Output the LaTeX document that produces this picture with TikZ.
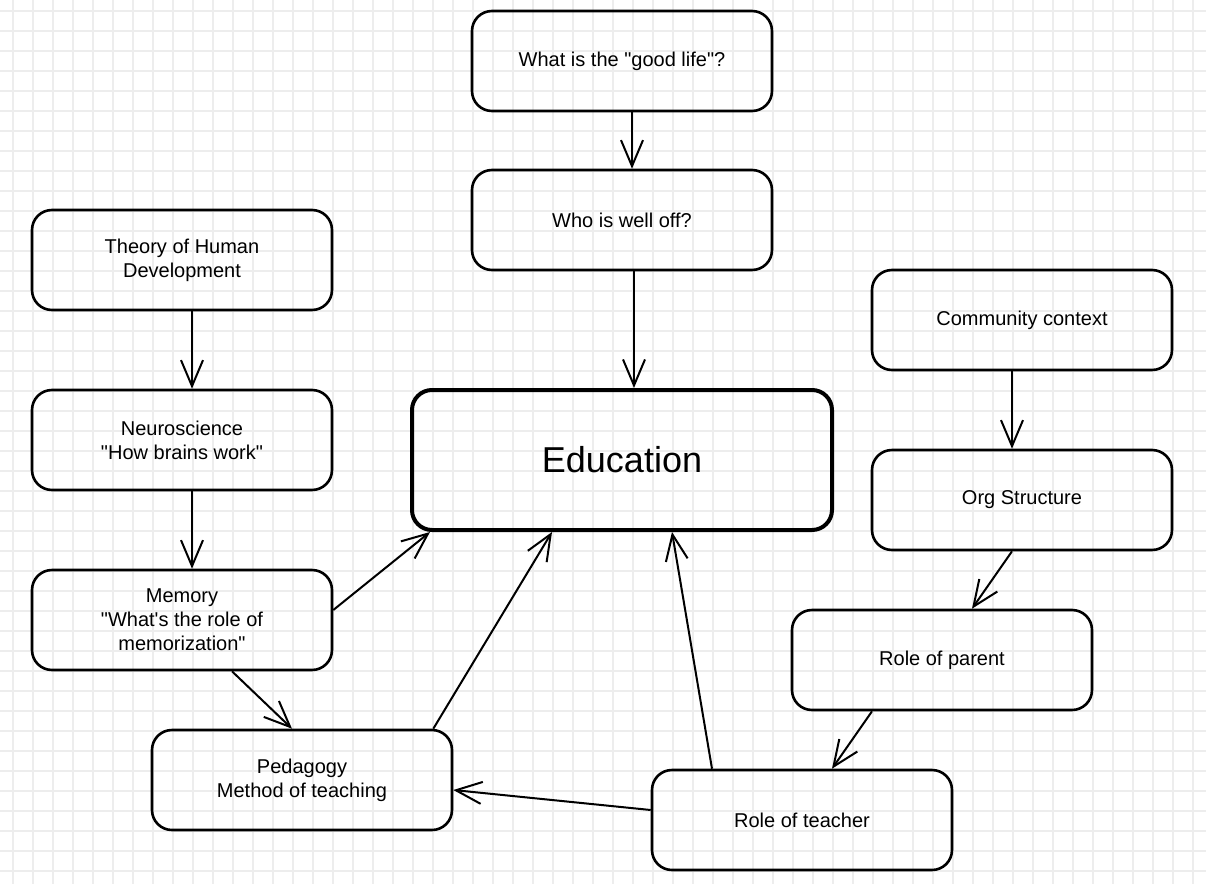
\documentclass[tikz,border=0pt]{standalone}
\usepackage{fontspec}
\setmainfont{Liberation Sans}
\usetikzlibrary{positioning}
\usetikzlibrary{calc}
\usetikzlibrary{arrows.meta}

\tikzset{
  gridline/.style={draw=gray!14, line width=0.8pt},
  topic/.style={draw, line width=1.3pt, rounded corners=10pt, align=center,
    minimum width=150pt, minimum height=50pt, font=\fontsize{10}{12}\selectfont},
  hub/.style={topic, line width=2pt, minimum width=210pt, minimum height=70pt,
    font=\fontsize{18}{21}\selectfont},
  link/.style={line width=1pt, -{Straight Barb[length=13pt, width=11pt, line width=1pt]}}
}

\begin{document}
\begin{tikzpicture}[x=0.5pt, y=-0.5pt]
  \useasboundingbox (0,0) rectangle (1206,884);

  % Grid
  \foreach \x in {13,33,...,1206}
    \draw[gridline] (\x,0) -- (\x,884);
  \foreach \y in {11,31,...,884}
    \draw[gridline] (0,\y) -- (1206,\y);

  % Boxes
  \node[topic] (good) at (622,61) {What is the \textquotedbl good life\textquotedbl?};
  \node[topic] (welloff) at (622,220) {Who is well off?};
  \node[topic] (theory) at (182,260) {Theory of Human\\Development};
  \node[topic] (neuro) at (182,440) {Neuroscience\\\textquotedbl How brains work\textquotedbl};
  \node[topic] (memory) at (182,620) {Memory\\\textquotedbl What\textquotesingle s the role of\\memorization\textquotedbl};
  \node[topic] (pedagogy) at (302,780) {Pedagogy\\Method of teaching};
  \node[hub] (edu) at (622,460) {Education};
  \node[topic] (community) at (1022,320) {Community context};
  \node[topic] (org) at (1022,500) {Org Structure};
  \node[topic] (parent) at (942,660) {Role of parent};
  \node[topic] (teacher) at (802,820) {Role of teacher};

  % Arrows
  \draw[link] ($(good.south)+(10,0)$) -- ($(welloff.north)+(10,0)$);
  \draw[link] ($(welloff.south)+(12,0)$) -- ($(edu.north)+(12,0)$);
  \draw[link] ($(theory.south)+(10,0)$) -- ($(neuro.north)+(10,0)$);
  \draw[link] ($(neuro.south)+(10,0)$) -- ($(memory.north)+(10,0)$);
  \draw[link] ($(memory.east)+(0,-10)$) -- ($(edu.south west)+(20,0)$);
  \draw[link] ($(memory.south)+(50,0)$) -- ($(pedagogy.north)+(-10,0)$);
  \draw[link] ($(pedagogy.north east)+(-20,0)$) -- ($(edu.south)+(-70,0)$);
  \draw[link] ($(teacher.north)+(-90,0)$) -- ($(edu.south)+(50,0)$);
  \draw[link] ($(teacher.west)+(0,-10)$) -- ($(pedagogy.east)+(0,10)$);
  \draw[link] ($(community.south)+(-10,0)$) -- ($(org.north)+(-10,0)$);
  \draw[link] ($(org.south)+(-10,0)$) -- ($(parent.north)+(30,0)$);
  \draw[link] ($(parent.south)+(-70,0)$) -- ($(teacher.north)+(30,0)$);
\end{tikzpicture}
\end{document}
